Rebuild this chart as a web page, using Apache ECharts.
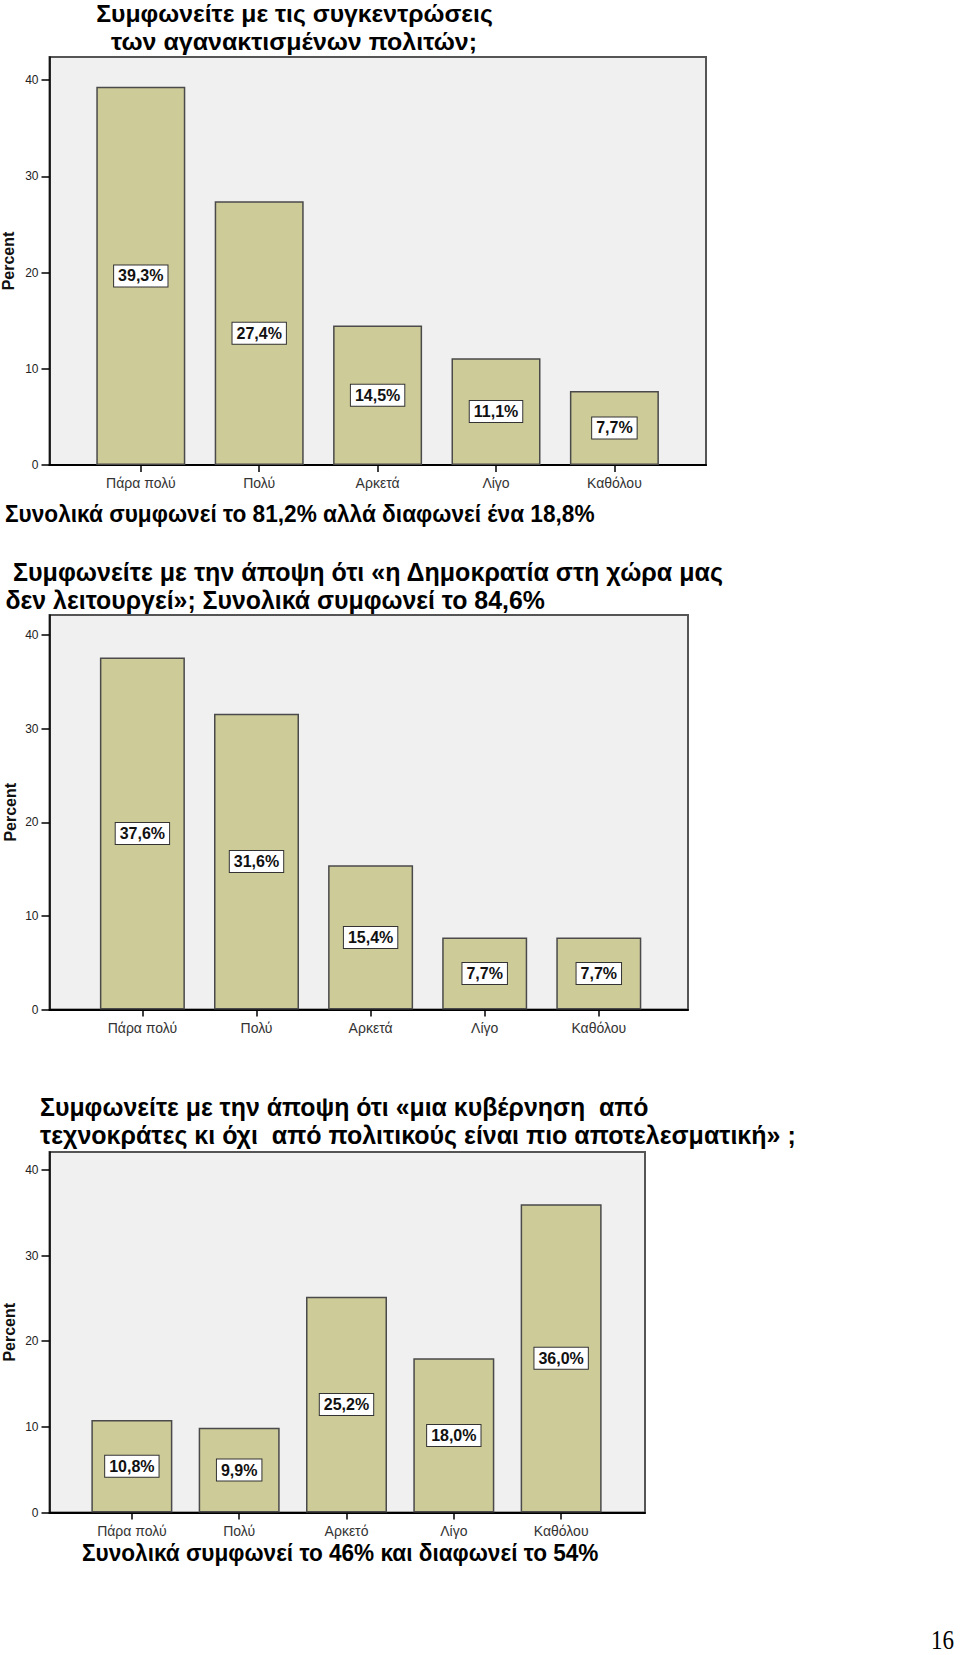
<!DOCTYPE html>
<html>
<head>
<meta charset="utf-8">
<script src="https://cdn.jsdelivr.net/npm/echarts@6/dist/echarts.min.js"></script>
<style>
  html, body { margin: 0; padding: 0; background: #ffffff; }
  #main { width: 960px; height: 1655px; }
</style>
</head>
<body>
<div id="main"></div>
<script>
// ---------------- DATA ----------------
const cats1 = ['Πάρα πολύ', 'Πολύ', 'Αρκετά', 'Λίγο', 'Καθόλου'];
const vals1 = [39.3, 27.4, 14.5, 11.1, 7.7];
const cats2 = ['Πάρα πολύ', 'Πολύ', 'Αρκετά', 'Λίγο', 'Καθόλου'];
const vals2 = [37.6, 31.6, 15.4, 7.7, 7.7];
const cats3 = ['Πάρα πολύ', 'Πολύ', 'Αρκετό', 'Λίγο', 'Καθόλου'];
const vals3 = [10.8, 9.9, 25.2, 18.0, 36.0];
const yTicks = [0, 10, 20, 30, 40];
const yName = 'Percent';

const title1 = ['Συμφωνείτε με τις συγκεντρώσεις', 'των αγανακτισμένων πολιτών;'];
const note1 = 'Συνολικά συμφωνεί το 81,2% αλλά διαφωνεί ένα 18,8%';
const title2 = ['Συμφωνείτε με την άποψη ότι «η Δημοκρατία στη χώρα μας', 'δεν λειτουργεί»; Συνολικά συμφωνεί το 84,6%'];
const title3 = ['Συμφωνείτε με την άποψη ότι «μια κυβέρνηση  από', 'τεχνοκράτες κι όχι  από πολιτικούς είναι πιο αποτελεσματική» ;'];
const note3 = 'Συνολικά συμφωνεί το 46% και διαφωνεί το 54%';
const pageNo = '16';

// ---------------- LAYOUT ----------------
const charts = [
  { cats: cats1, vals: vals1, L: 49.5, R: 706, T: 57, B: 465, yTop: 42.4, catL: 81.6, catW: 592, barW: 89, nameX: 8.5 },
  { cats: cats2, vals: vals2, L: 49.5, R: 688, T: 615, B: 1009.5, yTop: 42.15, catL: 85.35, catW: 570.5, barW: 85, nameX: 10.5 },
  { cats: cats3, vals: vals3, L: 49.5, R: 645, T: 1152, B: 1512.5, yTop: 42.1, catL: 78.2, catW: 536.6, barW: 81, nameX: 9 }
];

const SANS = '"Liberation Sans", Arial, sans-serif';
const mctx = document.createElement('canvas').getContext('2d');
function fitScale(text, font, targetW) {
  mctx.font = font;
  return targetW / mctx.measureText(text).width;
}
// free text items: [text, font, xLeft, xRight, yCenter, align]
const freeTexts = [
  [title1[0], 'bold 24px ' + SANS, 96, 493, 13.5, 'center'],
  [title1[1], 'bold 24px ' + SANS, 111, 477, 41.5, 'center'],
  [note1, 'bold 24px ' + SANS, 5, 595, 514, 'left'],
  [title2[0], 'bold 25px ' + SANS, 13, 724, 572, 'left'],
  [title2[1], 'bold 25px ' + SANS, 5.5, 545, 599.5, 'left'],
  [title3[0], 'bold 25px ' + SANS, 40, 649, 1106.5, 'left'],
  [title3[1], 'bold 25px ' + SANS, 40, 796, 1135, 'left'],
  [note3, 'bold 24px ' + SANS, 82, 599, 1553, 'left'],
  [pageNo, '28px "Liberation Serif", "Times New Roman", serif', 931, 954, 1639.5, 'right']
];

const graphic = freeTexts.map(function (t) {
  const s = fitScale(t[0], t[1], t[3] - t[2]);
  let x = t[2];
  if (t[5] === 'center') x = (t[2] + t[3]) / 2;
  if (t[5] === 'right') x = t[3];
  return {
    type: 'text', x: x, y: t[4], scaleX: s, silent: true,
    style: { text: t[0], font: t[1], fill: '#000', textAlign: t[5], textVerticalAlign: 'middle' }
  };
});

const grid = [], xAxis = [], yAxis = [], series = [];
charts.forEach(function (c, i) {
  graphic.push({
    type: 'text', x: c.nameX, y: (c.T + c.B) / 2, rotation: Math.PI / 2, silent: true,
    style: { text: yName, font: 'bold 16px ' + SANS, fill: '#111', textAlign: 'center', textVerticalAlign: 'middle' }
  });
  grid.push({
    left: c.L, top: c.T, width: c.R - c.L, height: c.B - c.T,
    show: true, backgroundColor: '#f0f0f0', borderColor: '#555555', borderWidth: 2,
    containLabel: false, outerBoundsMode: 'none'
  });
  grid.push({
    left: c.catL, top: c.T, width: c.catW, height: c.B - c.T,
    show: false, containLabel: false, outerBoundsMode: 'none'
  });
  xAxis.push({
    type: 'value', gridIndex: 2 * i, min: 0, max: 1, position: 'bottom',
    axisLine: { show: true, onZero: false, lineStyle: { color: '#000', width: 2 } },
    axisTick: { show: false }, axisLabel: { show: false }, splitLine: { show: false }
  });
  xAxis.push({
    type: 'category', gridIndex: 2 * i + 1, data: c.cats, position: 'bottom',
    axisLine: { show: false },
    axisTick: { show: true, alignWithLabel: true, length: 7, lineStyle: { color: '#000', width: 1.5 } },
    axisLabel: { show: true, margin: 11, fontSize: 14, color: '#333', fontFamily: SANS },
    splitLine: { show: false }
  });
  yAxis.push({
    type: 'value', gridIndex: 2 * i, min: 0, max: c.yTop, interval: 10, position: 'left',
    axisLine: { show: true, onZero: false, lineStyle: { color: '#000', width: 1.5 } },
    axisTick: { show: true, length: 8, customValues: yTicks, lineStyle: { color: '#000', width: 1.5 } },
    axisLabel: { show: true, margin: 11, fontSize: 12, color: '#222', fontFamily: SANS, customValues: yTicks },
    splitLine: { show: false }
  });
  yAxis.push({
    type: 'value', gridIndex: 2 * i + 1, min: 0, max: c.yTop, show: false,
    splitLine: { show: false }
  });
  series.push({
    type: 'bar', xAxisIndex: 2 * i + 1, yAxisIndex: 2 * i + 1,
    data: c.vals, barWidth: c.barW,
    itemStyle: { color: '#cdcb98', borderColor: '#4a4a4a', borderWidth: 1.5 },
    label: {
      show: true, position: 'inside',
      formatter: function (p) { return p.value.toFixed(1).replace('.', ',') + '%'; },
      fontWeight: 'bold', fontSize: 16, color: '#111', fontFamily: SANS,
      backgroundColor: '#ffffff', borderColor: '#333333', borderWidth: 1, padding: [3, 4, 2, 4]
    },
    emphasis: { disabled: true },
    animation: false
  });
});

const chart = echarts.init(document.getElementById('main'), null, { renderer: 'svg' });
chart.setOption({
  animation: false,
  backgroundColor: '#ffffff',
  grid: grid, xAxis: xAxis, yAxis: yAxis, series: series,
  graphic: graphic
});
</script>
</body>
</html>
